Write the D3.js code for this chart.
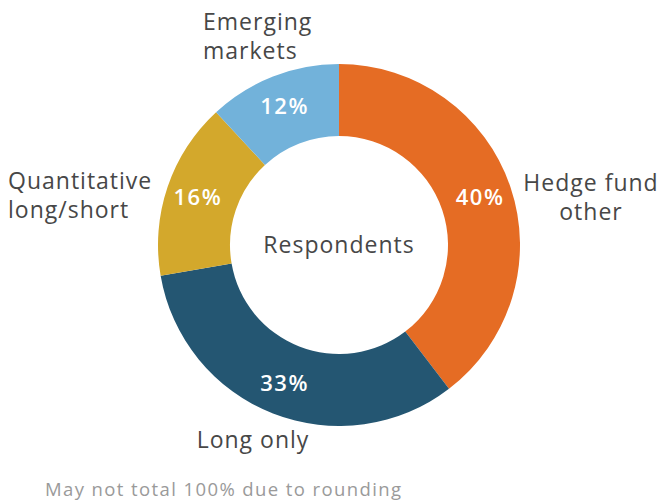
<!DOCTYPE html>
<html><head><meta charset="utf-8">
<script src="https://cdn.jsdelivr.net/npm/d3@7"></script>
<style>
html,body{margin:0;padding:0;background:#fff;}
text{font-family:"Open Sans",sans-serif;}
</style></head>
<body>
<svg id="chart" width="662" height="504"></svg>
<script>
const categories = ["Hedge fund other", "Long only", "Quantitative long/short", "Emerging markets"];
const values = [40, 33, 16, 12];
const valueLabels = ["40%", "33%", "16%", "12%"];
const colors = ["#E56C24", "#245672", "#D3A82C", "#72B2DA"];
const centerLabel = "Respondents";
const footnote = "May not total 100% due to rounding";

const svg = d3.select("#chart");
const cx = 339, cy = 245, R = 181, r = 109;
const g = svg.append("g").attr("transform", `translate(${cx},${cy})`);

const pie = d3.pie().sort(null).value(d => d);
const arcs = pie(values);
const arc = d3.arc().innerRadius(r).outerRadius(R);
const labelArc = d3.arc().innerRadius(r + 8).outerRadius(R);

g.selectAll("path").data(arcs).join("path")
  .attr("d", arc)
  .attr("fill", (d, i) => colors[i]);

g.selectAll("text.pct").data(arcs).join("text")
  .attr("class", "pct")
  .attr("transform", d => `translate(${labelArc.centroid(d)})`)
  .attr("text-anchor", "middle")
  .attr("dy", "0.35em")
  .attr("fill", "#fff")
  .attr("font-size", 22)
  .attr("font-weight", 600)
  .attr("letter-spacing", 1.6)
  .text((d, i) => valueLabels[i]);

g.append("text")
  .attr("text-anchor", "middle").attr("dy", "0.35em")
  .attr("fill", "#474747").attr("font-size", 23)
  .attr("letter-spacing", 1.0)
  .text(centerLabel);

// outer category labels
const outer = [
  {lines: ["Hedge fund", "other"], x: R + 71, y: -62, anchor: "middle"},
  {lines: ["Long only"], x: -86, y: R + 14, anchor: "middle"},
  {lines: ["Quantitative", "long/short"], x: -R - 150, y: -64, anchor: "start"},
  {lines: ["Emerging", "markets"], x: -136, y: -223, anchor: "start"}
];
outer.forEach((o, i) => {
  const t = g.append("text")
    .attr("text-anchor", o.anchor)
    .attr("fill", "#474747").attr("font-size", 23)
    .attr("letter-spacing", 1.0);
  o.lines.forEach((ln, j) => {
    t.append("tspan").attr("x", o.x).attr("y", o.y + j * 29).attr("dy", "0.35em").text(ln);
  });
});

svg.append("text")
  .attr("x", 45).attr("y", 490).attr("dy", "0.35em")
  .attr("fill", "#9a9a9a").attr("font-size", 18.5)
  .attr("letter-spacing", 1.4)
  .text(footnote);
</script>
</body></html>
